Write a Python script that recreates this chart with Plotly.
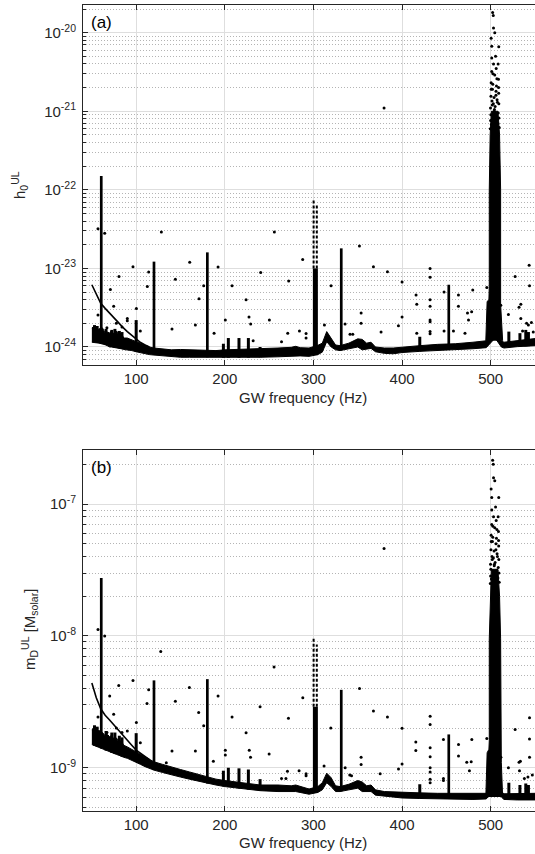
import numpy as np
import plotly.graph_objects as go

# ---------------- frequency grid of the noise band (Hz) ----------------
band_f = [50, 52, 55, 58, 62, 65, 68, 70, 72, 75, 78, 80, 83, 86, 90, 95, 100, 105, 110, 115,
          120, 130, 140, 150, 160, 170, 180, 190, 200, 220, 240, 260, 275, 280, 285, 295,
          305, 310, 315, 320, 325, 330, 340, 350, 355, 360, 365, 370, 380, 390, 400, 420,
          440, 460, 480, 495, 505, 512, 515, 530, 540, 550]

# ---------------- panel (a): h0 upper limits (units of 1e-24) ----------------
h_lo = [1.15, 1.15, 1.13, 1.12, 1.10, 1.07, 1.03, 1.00, 1.00, 0.99, 0.97, 0.97, 0.95, 0.93, 0.92, 0.90, 0.87, 0.84, 0.81, 0.80,
        0.79, 0.77, 0.75, 0.74, 0.74, 0.74, 0.74, 0.73, 0.73, 0.73, 0.74, 0.75, 0.77, 0.78, 0.77, 0.76,
        0.80, 0.86, 1.17, 1.00, 0.92, 0.90, 0.94, 1.00, 0.92, 0.94, 0.96, 0.87, 0.83, 0.82, 0.85, 0.88,
        0.90, 0.93, 0.95, 0.98, 1.30, 1.00, 0.97, 1.01, 1.02, 1.04]
h_hi = [1.75, 1.80, 1.60, 1.70, 1.75, 1.50, 1.55, 1.50, 1.62, 1.45, 1.60, 1.42, 1.50, 1.30, 1.30, 1.22, 1.17, 1.12, 1.06, 1.00,
        0.97, 0.94, 0.92, 0.93, 0.92, 0.90, 0.90, 0.90, 0.92, 0.93, 0.95, 0.97, 0.99, 1.02, 0.98, 0.97,
        1.05, 1.12, 1.57, 1.30, 1.06, 1.04, 1.12, 1.27, 1.25, 1.12, 1.15, 1.00, 0.97, 0.97, 1.00, 1.04,
        1.08, 1.10, 1.15, 1.20, 1.60, 1.20, 1.15, 1.20, 1.25, 1.28]

curve_f = [50, 55, 60, 65, 70, 75, 80, 85, 90, 95, 100, 105, 110, 115]
h_curve = [6.2, 4.7, 3.6, 3.1, 2.7, 2.3, 2.0, 1.78, 1.57, 1.4, 1.25, 1.14, 1.06, 1.0]

line_f = [60.6, 120.1, 180.3, 331.4, 452.7]
h_line_top = [150, 12.2, 16, 18, 6.2]
small_f = [100.0, 198.4, 204.0, 216.0, 226.6, 239.8, 420.0, 520.5, 533.0, 539.6, 542.6,
           53.0, 56.0, 66.0, 72.5, 76.0, 81.0, 84.0]
h_small_top = [2.2, 1.1, 1.3, 1.3, 1.3, 1.0, 1.35, 1.57, 1.5, 1.65, 1.55,
               1.9, 1.85, 1.7, 1.65, 1.7, 1.6, 1.55]

# 300 Hz line: dense part, and sparse upper columns
l300_f = [302.2, 300.2, 303.8]
h_l300 = [10, 74, 65]
m_l300 = [2.9, 9.6, 8.6]

# 500 Hz violin-mode region outline
v500_f = [494.5, 496.0, 498.0, 498.4, 498.4, 499.4, 500.8, 508.2, 510.0, 511.2, 511.2, 512.0, 513.5]
h_v500 = [1.2, 3.8, 4.0, 6, 100, 500, 1000, 1000, 500, 100, 3.5, 2.5, 1.2]
m_v500 = [0.6, 1.3, 1.38, 1.6, 9.5, 20, 32, 32, 20, 9.5, 1.5, 1.1, 0.6]

top500_f = [500.2, 508.5, 499.8, 505.0, 509.2, 501.5, 507.2, 500.3, 503.8, 509.0, 502.0, 506.5, 500.5,
            508.8, 504.6, 501.2, 503.2, 508.4, 501.2, 501.2, 509.1, 504.6, 503.2, 502.9, 502.2,
            504.0, 506.0, 507.0, 502.5, 505.5, 500.5, 499.6, 509.6, 500.8, 508.2, 502.8, 506.8,
            504.2, 499.9, 509.3, 501.8, 507.6, 503.0, 505.9, 500.6, 508.9, 502.4, 506.2]
h_top500 = [900, 950, 1100, 1150, 1250, 1350, 1400, 1550, 1500, 1700, 1900, 2100, 2300,
            2560, 2900, 3200, 4000, 4000, 4760, 6700, 6600, 10000, 11500, 16500, 18000,
            1000, 1800, 2600, 3000, 5000, 8500, 600, 620, 680, 700, 850, 870,
            1050, 760, 820, 1200, 1300, 1250, 1600, 1900, 2000, 2200, 3500]
m_top500 = [32, 33, 35, 36, 38, 40, 42, 45, 44, 48, 52, 55, 58,
            62, 66, 70, 80, 80, 90, 112, 112, 150, 158, 200, 215,
            34, 50, 64, 68, 95, 130, 25, 25.5, 27, 27.5, 31, 31.5,
            35, 28.5, 30, 38, 40, 39, 45, 52, 53, 56, 75]

dots_a_f = [56.9, 64.5, 70.9, 74.6, 80.6, 96.4, 90.0, 100.2, 112.6, 114.1, 128.4, 144.2, 140.4, 160.4,
            170.9, 176.2, 166.8, 192.4, 208.2, 187.9, 200.6, 255.9, 240.5, 224.0, 227.3, 229.2, 250.3,
            272.1, 287.9, 284.2, 291.7, 291.7, 271.0, 264.0, 232.0, 312.4, 319.9, 335.7, 351.9, 367.7,
            353.8, 353.8, 341.3, 344.4, 379.7, 383.5, 400.0, 400.0, 395.9, 376.3, 415.8, 416.6, 431.6,
            431.6, 431.6, 431.6, 431.6, 431.6, 431.6, 431.6, 416.6, 447.4, 447.4, 463.6, 463.6, 458.0,
            479.8, 473.8, 478.5, 475.0, 471.0, 495.6, 511.4, 520.0, 527.6, 532.0, 534.0, 534.0, 543.4,
            543.8, 540.5, 542.5, 546.0, 536.0, 548.0, 56.9, 67.0, 77.6, 84.0, 90.0, 104.7]
h_dots = [32, 28, 5.4, 3.3, 7.9, 10.5, 2.3, 3.1, 5.9, 9.0, 29, 7.3, 1.7, 12,
          4.1, 6.0, 1.9, 10.4, 6.0, 1.5, 2.2, 29, 8.9, 4.0, 2.4, 1.96, 2.2,
          6.9, 13, 1.6, 1.48, 1.3, 1.5, 1.17, 1.2, 1.9, 6.0, 1.96, 19.3, 10.5,
          2.7, 2.0, 1.45, 1.45, 1100, 9.1, 6.7, 2.4, 1.87, 1.55, 4.6, 3.5, 10,
          7.7, 4.0, 3.3, 2.2, 2.1, 1.57, 1.47, 1.5, 5.0, 1.6, 4.6, 3.3, 1.6,
          5.3, 2.7, 2.8, 2.2, 1.5, 5.7, 3.4, 2.6, 7.9, 3.2, 3.5, 2.3, 11,
          6.0, 2.0, 1.9, 2.05, 1.6, 1.55, 2.55, 1.76, 2.0, 1.8, 2.15, 1.6]

# ---------------- panel (b): m_D upper limits (units of 1e-9 M_solar) ----------------
m_lo = [1.50, 1.48, 1.45, 1.42, 1.39, 1.36, 1.33, 1.32, 1.30, 1.28, 1.26, 1.25, 1.22, 1.20, 1.18, 1.14, 1.11, 1.06, 1.02, 0.99,
        0.96, 0.92, 0.88, 0.85, 0.82, 0.79, 0.76, 0.74, 0.72, 0.69, 0.67, 0.66, 0.66, 0.66, 0.65, 0.63,
        0.65, 0.68, 0.77, 0.72, 0.66, 0.66, 0.68, 0.70, 0.66, 0.66, 0.66, 0.62, 0.61, 0.60, 0.59, 0.585,
        0.58, 0.58, 0.575, 0.58, 0.70, 0.60, 0.575, 0.57, 0.57, 0.57]
m_hi = [1.95, 2.00, 1.88, 1.92, 1.85, 1.75, 1.78, 1.72, 1.76, 1.65, 1.68, 1.57, 1.60, 1.48, 1.44, 1.38, 1.32, 1.26, 1.21, 1.15,
        1.11, 1.06, 1.02, 0.97, 0.93, 0.89, 0.855, 0.82, 0.80, 0.77, 0.74, 0.74, 0.73, 0.74, 0.72, 0.69,
        0.72, 0.77, 0.91, 0.84, 0.73, 0.72, 0.75, 0.80, 0.78, 0.73, 0.74, 0.68, 0.66, 0.655, 0.65, 0.645,
        0.64, 0.64, 0.64, 0.64, 0.80, 0.66, 0.635, 0.64, 0.64, 0.64]

m_curve = [4.4, 3.4, 2.8, 2.5, 2.3, 2.1, 1.93, 1.77, 1.62, 1.48, 1.36, 1.28, 1.21, 1.15]
m_line_top = [27.5, 4.6, 4.7, 3.9, 1.79]
m_small_top = [1.83, 0.95, 1.0, 0.99, 0.97, 0.82, 0.75, 0.77, 0.74, 0.76, 0.74,
               2.1, 2.05, 1.9, 1.85, 1.85, 1.75, 1.7]

dots_b_f = [56.9, 64.5, 70.1, 80.3, 96.4, 74.6, 100.2, 112.2, 114.1, 127.7, 144.2, 140.4, 160.0, 170.5,
            176.2, 166.8, 192.4, 208.2, 187.1, 200.6, 200.6, 134.0, 239.8, 224.0, 227.6, 229.0, 250.0,
            255.6, 271.8, 288.0, 291.7, 291.7, 283.8, 270.7, 264.0, 269.0, 319.6, 312.0, 335.8, 352.0,
            353.8, 353.8, 341.0, 343.0, 367.7, 383.5, 400.0, 400.0, 396.0, 375.3, 379.7, 415.5, 415.5,
            431.7, 431.7, 431.7, 431.7, 431.7, 431.7, 431.7, 431.7, 446.7, 446.7, 446.7, 463.7, 463.7,
            478.7, 478.0, 473.0, 476.0, 495.6, 511.5, 520.0, 527.6, 532.0, 533.5, 532.5, 543.8, 543.8,
            543.8, 547.0, 542.0, 538.0, 56.9, 67.0, 77.6, 84.0, 90.0, 104.7]
m_dots = [11.2, 10.0, 3.5, 4.2, 4.6, 2.55, 2.2, 3.07, 3.9, 7.6, 3.2, 1.34, 4.06, 2.63,
          2.08, 1.34, 3.5, 2.43, 1.12, 1.36, 1.25, 1.09, 2.9, 1.84, 1.36, 1.2, 1.27,
          5.8, 2.37, 3.4, 0.9, 0.87, 0.95, 0.94, 0.83, 0.83, 2.0, 1.03, 1.0, 4.0,
          1.2, 1.06, 0.88, 0.87, 2.7, 2.43, 1.99, 1.07, 0.98, 0.9, 46, 1.57, 1.35,
          2.46, 2.13, 1.42, 1.21, 1.0, 0.93, 0.82, 0.77, 1.64, 0.83, 0.8, 1.5, 1.23,
          1.64, 1.11, 1.1, 0.95, 1.67, 1.2, 1.0, 1.95, 1.1, 1.12, 0.95, 2.39, 1.65,
          1.2, 0.88, 0.85, 0.83, 2.43, 1.85, 2.0, 1.85, 1.9, 1.55]

# tick labels
x_ticks = [100, 200, 300, 400, 500]
a_tick_exp = [-24, -23, -22, -21, -20]
b_tick_exp = [-9, -8, -7]

FONT = "Liberation Sans, Arial, Helvetica, sans-serif"
INK = "#262626"
K = "black"

fig = go.Figure()


def add_panel(xa, ya, unit, lo, hi, curve, line_top, small_top, l300, v500, top500, dfx, dvy):
    lo = np.array(lo) * unit
    hi = np.array(hi) * unit
    logf = np.log10(lo)

    def base(f):
        return 10 ** np.interp(f, band_f, logf)

    kw = dict(xaxis=xa, yaxis=ya, hoverinfo="skip", showlegend=False)
    # noise band
    fig.add_trace(go.Scatter(x=band_f, y=lo, mode="lines", line=dict(color=K, width=1), **kw))
    fig.add_trace(go.Scatter(x=band_f, y=hi, mode="lines", line=dict(color=K, width=1),
                             fill="tonexty", fillcolor=K, **kw))
    # smooth low-frequency curve
    fig.add_trace(go.Scatter(x=curve_f, y=np.array(curve) * unit, mode="lines",
                             line=dict(color=K, width=1.6), **kw))
    # strong lines
    xs, ys = [], []
    for f, t in zip(line_f, line_top):
        xs += [f, f, None]
        ys += [base(f), t * unit, None]
    fig.add_trace(go.Scatter(x=xs, y=ys, mode="lines", line=dict(color=K, width=2.7), **kw))
    # small lines
    xs, ys = [], []
    for f, t in zip(small_f, small_top):
        xs += [f, f, None]
        ys += [base(f), t * unit, None]
    fig.add_trace(go.Scatter(x=xs, y=ys, mode="lines", line=dict(color=K, width=3), **kw))
    # 300 Hz line
    fig.add_trace(go.Scatter(x=[l300_f[0], l300_f[0]], y=[base(l300_f[0]), l300[0] * unit],
                             mode="lines", line=dict(color=K, width=5), **kw))
    for f, t in zip(l300_f[1:], l300[1:]):
        fig.add_trace(go.Scatter(x=[f, f], y=[l300[0] * unit, t * unit], mode="lines",
                                 line=dict(color=K, width=2, dash="3px,2px"), **kw))
    # 500 Hz region
    fig.add_trace(go.Scatter(x=v500_f, y=np.array(v500) * unit, mode="lines", fill="toself",
                             fillcolor=K, line=dict(color=K, width=1), **kw))
    fig.add_trace(go.Scatter(x=top500_f, y=np.array(top500) * unit, mode="markers",
                             marker=dict(color=K, size=3), **kw))
    # outliers
    fig.add_trace(go.Scatter(x=dfx, y=np.array(dvy) * unit, mode="markers",
                             marker=dict(color=K, size=3), **kw))


add_panel("x", "y", 1e-24, h_lo, h_hi, h_curve, h_line_top, h_small_top, h_l300, h_v500, h_top500,
          dots_a_f, h_dots)
add_panel("x2", "y2", 1e-9, m_lo, m_hi, m_curve, m_line_top, m_small_top, m_l300, m_v500, m_top500,
          dots_b_f, m_dots)


def minor_vals(e0, e1):
    return [m * 10.0 ** e for e in range(e0, e1) for m in range(2, 10)]


TICKFONT = dict(family=FONT, size=15, color=INK)
xcommon = dict(range=[40, 550], tickvals=x_ticks, ticktext=[str(v) for v in x_ticks],
               showgrid=True, gridcolor="#dedede", gridwidth=1, zeroline=False,
               showline=True, linecolor=INK, linewidth=1, mirror="ticks",
               ticks="inside", ticklen=5, tickcolor=INK, automargin=False,
               tickfont=TICKFONT)
ycommon = dict(type="log", showgrid=True, gridcolor="#dedede", gridwidth=1, zeroline=False,
               showline=True, linecolor=INK, linewidth=1, mirror=False,
               ticks="inside", ticklen=5, tickcolor=INK, automargin=False,
               ticklabelstandoff=3, tickfont=TICKFONT)

TOP, BOT = 5, 811          # pixel top of panel (a), pixel bottom of panel (b)
PH = BOT - TOP


def py(p):  # pixel row -> paper y
    return (BOT - p) / PH


def px(p):  # pixel column -> paper x
    return (p - 83) / 452


title_font = dict(family=FONT, size=15, color=INK)
fig.update_layout(
    width=535, height=854,
    margin=dict(l=83, r=0, t=TOP, b=854 - BOT),
    paper_bgcolor="white", plot_bgcolor="white",
    showlegend=False,
    font=dict(family=FONT, size=15, color=INK),
    xaxis=dict(domain=[0, 1], anchor="y", **xcommon),
    xaxis2=dict(domain=[0, 1], anchor="y2", **xcommon),
    yaxis=dict(domain=[py(365), 1], anchor="x", range=[np.log10(5.9e-25), np.log10(2.25e-20)],
               tickvals=[10.0 ** e for e in a_tick_exp],
               ticktext=["10<sup>%d</sup>" % e for e in a_tick_exp],
               minor=dict(tickvals=minor_vals(-25, -19), showgrid=True, gridcolor="#b4b4b4",
                          griddash="1px,2px", ticks="inside", ticklen=3, tickcolor=INK),
               **ycommon),
    yaxis2=dict(domain=[0, py(450)], anchor="x2", range=[np.log10(4.7e-10), np.log10(2.57e-7)],
                tickvals=[10.0 ** e for e in b_tick_exp],
                ticktext=["10<sup>%d</sup>" % e for e in b_tick_exp],
                minor=dict(tickvals=minor_vals(-10, -6), showgrid=True, gridcolor="#b4b4b4",
                           griddash="1px,2px", ticks="inside", ticklen=3, tickcolor=INK),
                **ycommon),
    annotations=[
        dict(text="(a)", x=0.013, y=0.951, xref="x domain", yref="y domain", xanchor="left",
             yanchor="middle", showarrow=False, font=dict(family=FONT, size=17, color="black")),
        dict(text="(b)", x=0.013, y=0.9515, xref="x2 domain", yref="y2 domain", xanchor="left",
             yanchor="middle", showarrow=False, font=dict(family=FONT, size=17, color="black")),
        dict(text="GW frequency (Hz)", x=px(303), y=py(397), xref="paper", yref="paper",
             xanchor="center", yanchor="middle", showarrow=False, font=title_font),
        dict(text="GW frequency (Hz)", x=px(303), y=py(842), xref="paper", yref="paper",
             xanchor="center", yanchor="middle", showarrow=False, font=title_font),
        dict(text="h<sub>0</sub><sup>UL</sup>", x=px(19), y=py(185), xref="paper", yref="paper",
             xanchor="center", yanchor="middle", textangle=-90, showarrow=False, font=title_font),
        dict(text="m<sub>D</sub><sup>UL</sup> [M<sub>solar</sub>]", x=px(29), y=py(630),
             xref="paper", yref="paper", xanchor="center", yanchor="middle", textangle=-90,
             showarrow=False, font=title_font),
    ],
)

fig.write_html("out.html", config={"displayModeBar": False},
               post_script="document.body.style.margin='0';")
